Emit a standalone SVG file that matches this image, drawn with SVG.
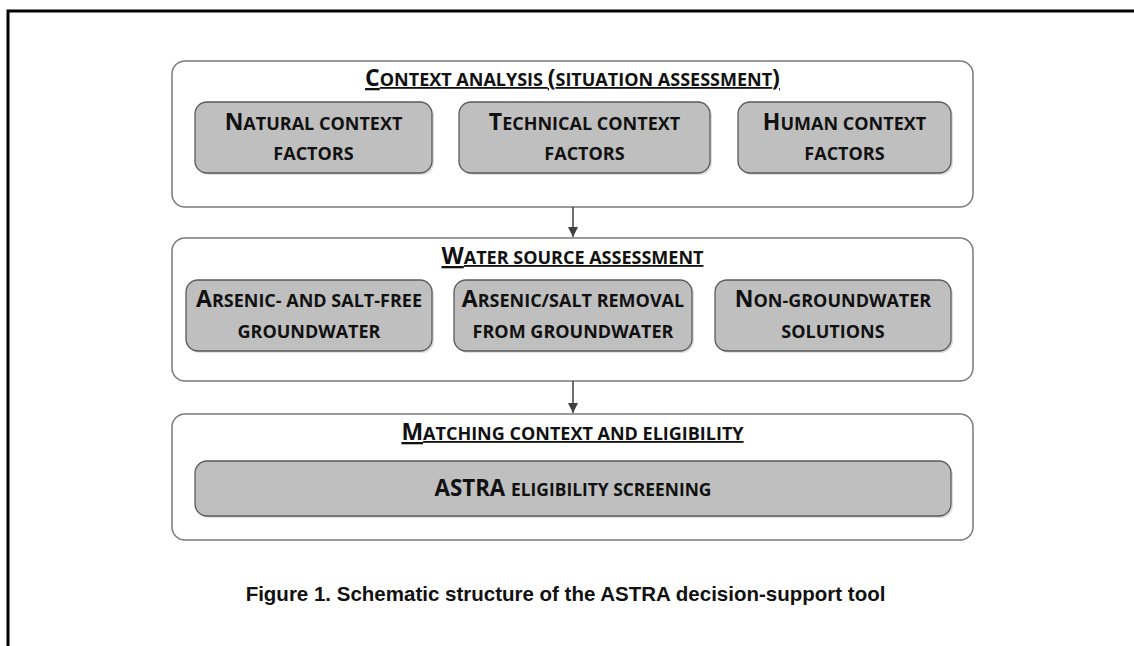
<svg xmlns="http://www.w3.org/2000/svg" width="1134" height="646" viewBox="0 0 1134 646">
<style>
.frame{fill:none;stroke:#000;stroke-width:3}
.cont{fill:#fff;stroke:#7a7a7a;stroke-width:1.5}
.box{fill:#bfbfbf;stroke:#5a5a5a;stroke-width:1.3}
.shadow{fill:#dedede;stroke:none}
.t{font-family:"Open Sans",Lato,"Liberation Sans",sans-serif;font-weight:bold;fill:#111;text-anchor:middle;font-size:23px}
.s{font-size:18px}
.ttl{text-decoration:underline}
.cap{font-family:"Liberation Sans",Arial,sans-serif;font-weight:bold;font-size:20.5px;fill:#111;text-anchor:middle}
.conn{stroke:#404040;stroke-width:1.5;fill:none}
</style>
<defs>
<marker id="ah" viewBox="0 0 10 10" refX="10" refY="5" markerWidth="10" markerHeight="10" markerUnits="userSpaceOnUse" orient="auto">
<path d="M0,0 L10,5 L0,10 Z" fill="#404040"/>
</marker>
</defs>
<path class="frame" d="M8,646 V11 H1134"/>

<g id="context-analysis">
<rect class="cont" x="172" y="61" width="801" height="146" rx="13"/>
<text class="t ttl" x="572.5" y="86">C<tspan class="s">ONTEXT ANALYSIS </tspan>(<tspan class="s">SITUATION ASSESSMENT</tspan>)</text>
</g>
<g id="natural">
<rect class="shadow" x="197" y="104" width="237" height="71" rx="12"/>
<rect class="box" x="195" y="102" width="237" height="71" rx="12"/>
<text class="t" x="313.5" y="130">N<tspan class="s">ATURAL CONTEXT</tspan></text>
<text class="t s" x="313.5" y="160">FACTORS</text>
</g>
<g id="technical">
<rect class="shadow" x="461" y="104" width="251" height="71" rx="12"/>
<rect class="box" x="459" y="102" width="251" height="71" rx="12"/>
<text class="t" x="584.5" y="130">T<tspan class="s">ECHNICAL CONTEXT</tspan></text>
<text class="t s" x="584.5" y="160">FACTORS</text>
</g>
<g id="human">
<rect class="shadow" x="740" y="104" width="213" height="71" rx="12"/>
<rect class="box" x="738" y="102" width="213" height="71" rx="12"/>
<text class="t" x="844.5" y="130">H<tspan class="s">UMAN CONTEXT</tspan></text>
<text class="t s" x="844.5" y="160">FACTORS</text>
</g>

<g id="water-source">
<rect class="cont" x="172" y="238" width="801" height="143" rx="13"/>
<text class="t ttl" x="572.5" y="264">W<tspan class="s">ATER SOURCE ASSESSMENT</tspan></text>
</g>
<g id="arsenic-free">
<rect class="shadow" x="188" y="282" width="246" height="71" rx="12"/>
<rect class="box" x="186" y="280" width="246" height="71" rx="12"/>
<text class="t" x="309" y="307">A<tspan class="s">RSENIC- AND SALT-FREE</tspan></text>
<text class="t s" x="309" y="338">GROUNDWATER</text>
</g>
<g id="removal">
<rect class="shadow" x="456" y="282" width="238" height="71" rx="12"/>
<rect class="box" x="454" y="280" width="238" height="71" rx="12"/>
<text class="t" x="573" y="307">A<tspan class="s">RSENIC/SALT REMOVAL</tspan></text>
<text class="t s" x="573" y="338">FROM GROUNDWATER</text>
</g>
<g id="non-groundwater">
<rect class="shadow" x="717" y="282" width="236" height="71" rx="12"/>
<rect class="box" x="715" y="280" width="236" height="71" rx="12"/>
<text class="t" x="833" y="307">N<tspan class="s">ON-GROUNDWATER</tspan></text>
<text class="t s" x="833" y="338">SOLUTIONS</text>
</g>

<g id="matching">
<rect class="cont" x="172" y="414" width="801" height="126" rx="13"/>
<text class="t ttl" x="572.5" y="440">M<tspan class="s">ATCHING CONTEXT AND ELIGIBILITY</tspan></text>
</g>
<g id="astra">
<rect class="shadow" x="197" y="463" width="756" height="55" rx="12"/>
<rect class="box" x="195" y="461" width="756" height="55" rx="12"/>
<text class="t" x="573" y="496" style="font-size:22.3px">ASTRA <tspan style="font-size:17.4px">ELIGIBILITY SCREENING</tspan></text>
</g>

<g id="connectors">
<line class="conn" x1="573" y1="207" x2="573" y2="237" marker-end="url(#ah)"/>
<line class="conn" x1="573" y1="381" x2="573" y2="413" marker-end="url(#ah)"/>
</g>

<text class="cap" x="565.5" y="601">Figure 1. Schematic structure of the ASTRA decision-support tool</text>
</svg>
